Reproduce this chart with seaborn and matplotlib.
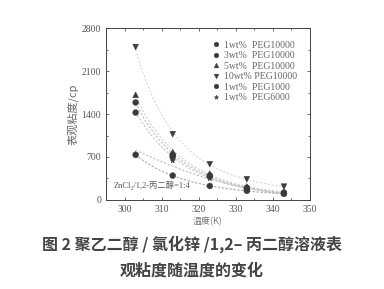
import numpy as np
import pandas as pd
import matplotlib
matplotlib.use("Agg")
import matplotlib.pyplot as plt
import seaborn as sns
from matplotlib.ticker import MultipleLocator

sns.set_style("ticks")
plt.rcParams['font.family'] = ['Liberation Serif', 'Noto Sans CJK SC', 'DejaVu Sans']

temps = [303, 313, 323, 333, 343]
labels = ["1wt%  PEG10000", "3wt%  PEG10000", "5wt%  PEG10000",
          "10wt% PEG10000", "1wt%  PEG1000", "1wt%  PEG6000"]
v_1_10000 = [1424, 700, 380, 180, 110]
v_3_10000 = [1588, 740, 400, 200, 120]
v_5_10000 = [1713, 780, 430, 220, 130]
v_10_10000 = [2490, 1071, 582, 337, 217]
v_1_1000 = [734, 397, 228, 150, 100]
v_1_6000 = [750, 640, 350, 160, 110]
series = [v_1_10000, v_3_10000, v_5_10000, v_10_10000, v_1_1000, v_1_6000]
markers = ["o", "o", "^", "v", "o", "*"]
line_colors = ["#c8c8c8", "#bdbdbd", "#cfcfcf", "#d8d8d8", "#a8a8a8", "#c0c0c0"]

rows = []
for lab, vals in zip(labels, series):
    for t, v in zip(temps, vals):
        rows.append({"T": t, "eta": v, "series": lab})
df = pd.DataFrame(rows)

fig = plt.figure(figsize=(3.84, 2.89), dpi=100)
ax = fig.add_axes([0.276, 0.308, 0.531, 0.595])

xs = np.linspace(303, 343, 100)
for lab, vals, c in zip(labels, series, line_colors):
    p = np.polyfit(temps, np.log(vals), 2)
    ax.plot(xs, np.exp(np.polyval(p, xs)), linestyle=(0, (2, 1.5)), color=c, lw=0.8, zorder=1)

sns.scatterplot(data=df, x="T", y="eta", hue="series", style="series",
                markers=dict(zip(labels, markers)),
                palette=dict(zip(labels, ["#3a3a3a"] * 6)),
                s=18, edgecolor="#3a3a3a", linewidth=0.3, ax=ax, zorder=3)

ax.set_xlim(295, 350)
ax.set_ylim(0, 2800)
ax.xaxis.set_major_locator(MultipleLocator(10))
ax.xaxis.set_minor_locator(MultipleLocator(5))
ax.yaxis.set_major_locator(MultipleLocator(700))
ax.yaxis.set_minor_locator(MultipleLocator(350))
ax.tick_params(which="both", direction="in", top=True, right=True,
               labelsize=7, colors="#555555", width=0.6)
ax.tick_params(which="major", length=2.5)
ax.tick_params(which="minor", length=1.5)
for sp in ax.spines.values():
    sp.set_color("#444444")
    sp.set_linewidth(0.7)

ax.set_xlabel("温度(K)", fontsize=6.5, color="#777777", labelpad=2,
              family=['Noto Sans CJK SC', 'DejaVu Sans'])
ax.set_ylabel("表观粘度/cp", fontsize=8, color="#666666", labelpad=2,
              family=['Noto Sans CJK SC', 'DejaVu Sans'])

leg = ax.legend(loc="upper right", frameon=False, fontsize=7,
                handletextpad=0.2, labelspacing=0.15, markerscale=0.8,
                borderaxespad=0.9, handlelength=1.3)
for t in leg.get_texts():
    t.set_color("#666666")

ax.text(297, 200, "ZnCl₂/1,2-丙二醇=1:4", fontsize=6, color="#555555",
        family=['Liberation Serif', 'Noto Sans CJK SC'])

fig.text(0.5, 0.155, "图 2 聚乙二醇 / 氯化锌 /1,2– 丙二醇溶液表", ha="center",
         va="center", fontsize=11.5, fontweight="bold", color="#444444",
         family=['Noto Sans CJK SC', 'DejaVu Sans'])
fig.text(0.5, 0.065, "观粘度随温度的变化", ha="center", va="center",
         fontsize=11.5, fontweight="bold", color="#444444",
         family=['Noto Sans CJK SC', 'DejaVu Sans'])

fig.savefig("out.png", dpi=100, facecolor="white")
